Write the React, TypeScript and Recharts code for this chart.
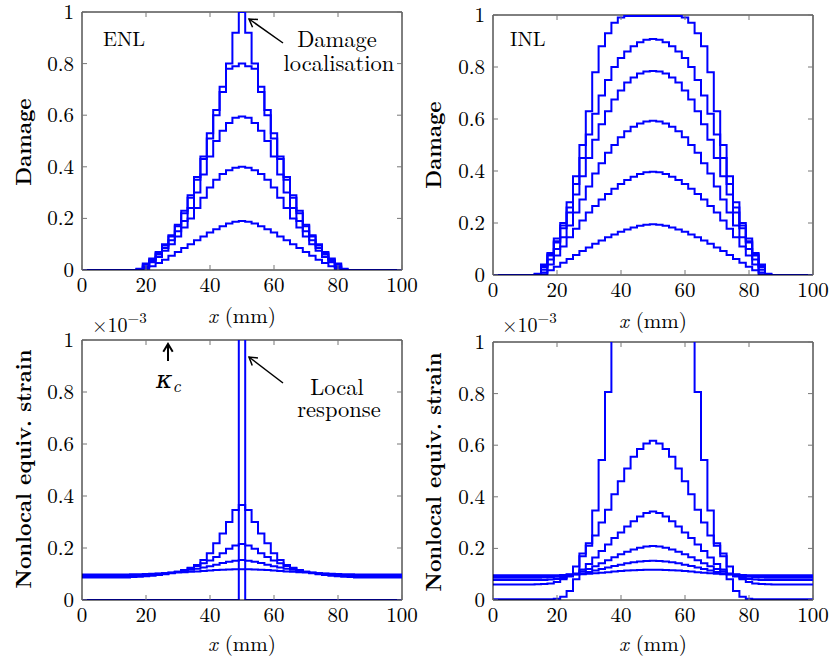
import { LineChart, Line, XAxis, YAxis, ReferenceLine } from 'recharts';

const FONT = "'Latin Modern Roman'";
const BLUE = '#0000ff';

// element centres along the bar (mm)
const xMm = [
  0, 2, 4, 6, 8, 10, 12, 14, 16, 18, 20, 22, 24, 26, 28, 30, 32, 34, 36, 38, 40, 42, 44, 46, 48, 50,
  52, 54, 56, 58, 60, 62, 64, 66, 68, 70, 72, 74, 76, 78, 80, 82, 84, 86, 88, 90, 92, 94, 96, 98, 100,
];
const xTicks = [0, 20, 40, 60, 80, 100];
const yTicks = [0, 0.2, 0.4, 0.6, 0.8, 1];

// ENL damage profiles
const enlDamage1 = [0, 0, 0, 0, 0, 0, 0, 0, 0, 0, 0.005, 0.015, 0.027, 0.04, 0.055, 0.07, 0.085, 0.1, 0.115, 0.13, 0.145, 0.158, 0.17, 0.18, 0.187, 0.19, 0.187, 0.18, 0.17, 0.158, 0.145, 0.13, 0.115, 0.1, 0.085, 0.07, 0.055, 0.04, 0.027, 0.015, 0.005, 0, 0, 0, 0, 0, 0, 0, 0, 0, 0];
const enlDamage2 = [0, 0, 0, 0, 0, 0, 0, 0, 0, 0, 0.012, 0.03, 0.05, 0.075, 0.1, 0.13, 0.165, 0.2, 0.24, 0.28, 0.32, 0.35, 0.372, 0.387, 0.396, 0.4, 0.396, 0.387, 0.372, 0.35, 0.32, 0.28, 0.24, 0.2, 0.165, 0.13, 0.1, 0.075, 0.05, 0.03, 0.012, 0, 0, 0, 0, 0, 0, 0, 0, 0, 0];
const enlDamage3 = [0, 0, 0, 0, 0, 0, 0, 0, 0, 0, 0.015, 0.035, 0.06, 0.085, 0.115, 0.15, 0.19, 0.24, 0.3, 0.37, 0.44, 0.5, 0.54, 0.57, 0.59, 0.595, 0.59, 0.57, 0.54, 0.5, 0.44, 0.37, 0.3, 0.24, 0.19, 0.15, 0.115, 0.085, 0.06, 0.035, 0.015, 0, 0, 0, 0, 0, 0, 0, 0, 0, 0];
const enlDamage4 = [0, 0, 0, 0, 0, 0, 0, 0, 0, 0.003, 0.02, 0.04, 0.065, 0.095, 0.13, 0.17, 0.22, 0.28, 0.35, 0.43, 0.51, 0.6, 0.69, 0.78, 0.79, 0.8, 0.79, 0.78, 0.69, 0.6, 0.51, 0.43, 0.35, 0.28, 0.22, 0.17, 0.13, 0.095, 0.065, 0.04, 0.02, 0.003, 0, 0, 0, 0, 0, 0, 0, 0, 0];
const enlDamage5 = [0, 0, 0, 0, 0, 0, 0, 0, 0, 0.005, 0.025, 0.045, 0.07, 0.1, 0.135, 0.175, 0.23, 0.29, 0.36, 0.44, 0.53, 0.62, 0.71, 0.8, 0.92, 1, 0.92, 0.8, 0.71, 0.62, 0.53, 0.44, 0.36, 0.29, 0.23, 0.175, 0.135, 0.1, 0.07, 0.045, 0.025, 0.005, 0, 0, 0, 0, 0, 0, 0, 0, 0];

// INL damage profiles
const inlDamage1 = [0, 0, 0, 0, 0, 0, 0, 0, 0.003, 0.018, 0.032, 0.047, 0.062, 0.077, 0.092, 0.106, 0.12, 0.133, 0.145, 0.156, 0.166, 0.175, 0.183, 0.189, 0.193, 0.195, 0.193, 0.189, 0.183, 0.175, 0.166, 0.156, 0.145, 0.133, 0.12, 0.106, 0.092, 0.077, 0.062, 0.047, 0.032, 0.018, 0.003, 0, 0, 0, 0, 0, 0, 0, 0];
const inlDamage2 = [0, 0, 0, 0, 0, 0, 0, 0, 0.01, 0.04, 0.075, 0.11, 0.145, 0.178, 0.21, 0.24, 0.265, 0.29, 0.312, 0.332, 0.35, 0.365, 0.378, 0.388, 0.395, 0.397, 0.395, 0.388, 0.378, 0.365, 0.35, 0.332, 0.312, 0.29, 0.265, 0.24, 0.21, 0.178, 0.145, 0.11, 0.075, 0.04, 0.01, 0, 0, 0, 0, 0, 0, 0, 0];
const inlDamage3 = [0, 0, 0, 0, 0, 0, 0, 0, 0.02, 0.06, 0.1, 0.145, 0.19, 0.24, 0.29, 0.34, 0.39, 0.43, 0.47, 0.5, 0.53, 0.553, 0.57, 0.583, 0.59, 0.593, 0.59, 0.583, 0.57, 0.553, 0.53, 0.5, 0.47, 0.43, 0.39, 0.34, 0.29, 0.24, 0.19, 0.145, 0.1, 0.06, 0.02, 0, 0, 0, 0, 0, 0, 0, 0];
const inlDamage4 = [0, 0, 0, 0, 0, 0, 0, 0, 0.03, 0.075, 0.125, 0.18, 0.24, 0.31, 0.38, 0.45, 0.52, 0.58, 0.63, 0.675, 0.71, 0.74, 0.76, 0.775, 0.783, 0.785, 0.783, 0.775, 0.76, 0.74, 0.71, 0.675, 0.63, 0.58, 0.52, 0.45, 0.38, 0.31, 0.24, 0.18, 0.125, 0.075, 0.03, 0, 0, 0, 0, 0, 0, 0, 0];
const inlDamage5 = [0, 0, 0, 0, 0, 0, 0, 0.003, 0.035, 0.08, 0.13, 0.19, 0.26, 0.35, 0.45, 0.54, 0.62, 0.69, 0.75, 0.8, 0.835, 0.86, 0.88, 0.895, 0.905, 0.908, 0.905, 0.895, 0.88, 0.86, 0.835, 0.8, 0.75, 0.69, 0.62, 0.54, 0.45, 0.35, 0.26, 0.19, 0.13, 0.08, 0.035, 0.003, 0, 0, 0, 0, 0, 0, 0];
const inlDamage6 = [0, 0, 0, 0, 0, 0, 0, 0.005, 0.04, 0.085, 0.14, 0.2, 0.28, 0.38, 0.5, 0.63, 0.78, 0.88, 0.93, 0.97, 0.99, 0.996, 0.996, 0.996, 0.996, 0.996, 0.996, 0.996, 0.996, 0.996, 0.99, 0.97, 0.93, 0.88, 0.78, 0.63, 0.5, 0.38, 0.28, 0.2, 0.14, 0.085, 0.04, 0.005, 0, 0, 0, 0, 0, 0, 0];

// ENL nonlocal equivalent strain (x 1e-3)
const enlStrain1 = [0.098, 0.098, 0.098, 0.098, 0.098, 0.098, 0.098, 0.098, 0.099, 0.099, 0.1, 0.101, 0.102, 0.103, 0.104, 0.106, 0.107, 0.109, 0.11, 0.112, 0.113, 0.115, 0.116, 0.117, 0.118, 0.118, 0.118, 0.117, 0.116, 0.115, 0.113, 0.112, 0.11, 0.109, 0.107, 0.106, 0.104, 0.103, 0.102, 0.101, 0.1, 0.099, 0.099, 0.098, 0.098, 0.098, 0.098, 0.098, 0.098, 0.098, 0.098];
const enlStrain2 = [0.094, 0.094, 0.094, 0.094, 0.094, 0.094, 0.094, 0.094, 0.095, 0.096, 0.097, 0.099, 0.101, 0.103, 0.106, 0.109, 0.112, 0.116, 0.12, 0.125, 0.13, 0.136, 0.142, 0.147, 0.151, 0.154, 0.151, 0.147, 0.142, 0.136, 0.13, 0.125, 0.12, 0.116, 0.112, 0.109, 0.106, 0.103, 0.101, 0.099, 0.097, 0.096, 0.095, 0.094, 0.094, 0.094, 0.094, 0.094, 0.094, 0.094, 0.094];
const enlStrain3 = [0.091, 0.091, 0.091, 0.091, 0.091, 0.091, 0.091, 0.091, 0.092, 0.093, 0.095, 0.097, 0.099, 0.102, 0.105, 0.109, 0.115, 0.122, 0.131, 0.141, 0.152, 0.165, 0.18, 0.197, 0.21, 0.215, 0.21, 0.197, 0.18, 0.165, 0.152, 0.141, 0.131, 0.122, 0.115, 0.109, 0.105, 0.102, 0.099, 0.097, 0.095, 0.093, 0.092, 0.091, 0.091, 0.091, 0.091, 0.091, 0.091, 0.091, 0.091];
const enlStrain4 = [0.087, 0.087, 0.087, 0.087, 0.087, 0.087, 0.087, 0.087, 0.088, 0.089, 0.091, 0.093, 0.096, 0.099, 0.103, 0.108, 0.115, 0.124, 0.135, 0.154, 0.18, 0.218, 0.256, 0.3, 0.346, 0.365, 0.346, 0.3, 0.256, 0.218, 0.18, 0.154, 0.135, 0.124, 0.115, 0.108, 0.103, 0.099, 0.096, 0.093, 0.091, 0.089, 0.088, 0.087, 0.087, 0.087, 0.087, 0.087, 0.087, 0.087, 0.087];
const enlLocal = [0, 0, 0, 0, 0, 0, 0, 0, 0, 0, 0, 0, 0, 0, 0, 0, 0, 0, 0, 0, 0, 0, 0, 0, 0, 9, 0, 0, 0, 0, 0, 0, 0, 0, 0, 0, 0, 0, 0, 0, 0, 0, 0, 0, 0, 0, 0, 0, 0, 0, 0];

// INL nonlocal equivalent strain (x 1e-3)
const inlStrain1 = [0.096, 0.096, 0.096, 0.096, 0.096, 0.096, 0.096, 0.096, 0.096, 0.096, 0.096, 0.097, 0.098, 0.099, 0.1, 0.102, 0.104, 0.106, 0.108, 0.11, 0.112, 0.114, 0.115, 0.116, 0.117, 0.117, 0.117, 0.116, 0.115, 0.114, 0.112, 0.11, 0.108, 0.106, 0.104, 0.102, 0.1, 0.099, 0.098, 0.097, 0.096, 0.096, 0.096, 0.096, 0.096, 0.096, 0.096, 0.096, 0.096, 0.096, 0.096];
const inlStrain2 = [0.091, 0.091, 0.091, 0.091, 0.091, 0.091, 0.091, 0.091, 0.091, 0.092, 0.093, 0.095, 0.097, 0.1, 0.104, 0.109, 0.114, 0.12, 0.126, 0.132, 0.137, 0.142, 0.146, 0.149, 0.151, 0.152, 0.151, 0.149, 0.146, 0.142, 0.137, 0.132, 0.126, 0.12, 0.114, 0.109, 0.104, 0.1, 0.097, 0.095, 0.093, 0.092, 0.091, 0.091, 0.091, 0.091, 0.091, 0.091, 0.091, 0.091, 0.091];
const inlStrain3 = [0.086, 0.086, 0.086, 0.086, 0.086, 0.086, 0.086, 0.086, 0.087, 0.088, 0.09, 0.093, 0.097, 0.103, 0.111, 0.12, 0.131, 0.142, 0.154, 0.166, 0.177, 0.187, 0.196, 0.203, 0.207, 0.209, 0.207, 0.203, 0.196, 0.187, 0.177, 0.166, 0.154, 0.142, 0.131, 0.12, 0.111, 0.103, 0.097, 0.093, 0.09, 0.088, 0.087, 0.086, 0.086, 0.086, 0.086, 0.086, 0.086, 0.086, 0.086];
const inlStrain4 = [0.078, 0.078, 0.078, 0.078, 0.078, 0.078, 0.078, 0.078, 0.078, 0.079, 0.081, 0.085, 0.091, 0.101, 0.118, 0.14, 0.165, 0.19, 0.215, 0.24, 0.262, 0.285, 0.305, 0.324, 0.337, 0.343, 0.337, 0.324, 0.305, 0.285, 0.262, 0.24, 0.215, 0.19, 0.165, 0.14, 0.118, 0.101, 0.091, 0.085, 0.081, 0.079, 0.078, 0.078, 0.078, 0.078, 0.078, 0.078, 0.078, 0.078, 0.078];
const inlStrain5 = [0.06, 0.06, 0.06, 0.06, 0.06, 0.06, 0.06, 0.061, 0.062, 0.064, 0.07, 0.08, 0.1, 0.13, 0.17, 0.21, 0.25, 0.3, 0.35, 0.41, 0.46, 0.51, 0.555, 0.585, 0.607, 0.617, 0.607, 0.585, 0.555, 0.51, 0.46, 0.41, 0.35, 0.3, 0.25, 0.21, 0.17, 0.13, 0.1, 0.08, 0.07, 0.064, 0.062, 0.061, 0.06, 0.06, 0.06, 0.06, 0.06, 0.06, 0.06];
const inlStrain6 = [0.003, 0.003, 0.003, 0.003, 0.003, 0.003, 0.003, 0.003, 0.003, 0.003, 0.005, 0.013, 0.035, 0.08, 0.18, 0.22, 0.347, 0.543, 0.806, 1.35, 1.8, 2.2, 2.55, 2.8, 2.95, 3, 2.95, 2.8, 2.55, 2.2, 1.8, 1.35, 0.806, 0.543, 0.347, 0.22, 0.18, 0.08, 0.035, 0.013, 0.005, 0.003, 0.003, 0.003, 0.003, 0.003, 0.003, 0.003, 0.003, 0.003, 0.003];

const PAD_L = 80;
const PAD_T = 20;
const PAD_R = 28;
const PAD_B = 40;

interface PanelProps {
  plotLeft: number;
  plotTop: number;
  plotW: number;
  plotH: number;
  series: number[][];
}

function Panel({ plotLeft, plotTop, plotW, plotH, series }: PanelProps) {
  const data = xMm.map((x, i) => {
    const row: Record<string, number> = { x };
    series.forEach((s, k) => {
      row['s' + k] = s[i];
    });
    return row;
  });
  const bottom = PAD_T + plotH;
  const right = PAD_L + plotW;

  // ticks point inwards on all four sides, pgfplots style
  const xTick = ({ x, payload }: any) => (
    <g>
      <line x1={x} x2={x} y1={bottom} y2={bottom - 5} stroke="#777" />
      <line x1={x} x2={x} y1={PAD_T} y2={PAD_T + 5} stroke="#777" />
      <text x={x} y={bottom + 22} textAnchor="middle" style={{ fontFamily: FONT }} fontSize={21} fill="#000">
        {payload.value}
      </text>
    </g>
  );
  const yTick = ({ y, payload }: any) => (
    <g>
      <line x1={PAD_L} x2={PAD_L + 5} y1={y} y2={y} stroke="#777" />
      <line x1={right} x2={right - 5} y1={y} y2={y} stroke="#777" />
      <text x={PAD_L - 8} y={y + 7} textAnchor="end" style={{ fontFamily: FONT }} fontSize={21} fill="#000">
        {payload.value}
      </text>
    </g>
  );

  return (
    <div style={{ position: 'absolute', left: plotLeft - PAD_L, top: plotTop - PAD_T }}>
      <LineChart
        width={PAD_L + plotW + PAD_R}
        height={PAD_T + plotH + PAD_B}
        data={data}
        margin={{ top: PAD_T, right: PAD_R, left: 0, bottom: 0 }}
      >
        <XAxis
          dataKey="x"
          type="number"
          domain={[0, 100]}
          ticks={xTicks}
          interval={0}
          tick={xTick}
          tickLine={false}
          axisLine={{ stroke: '#000' }}
          height={PAD_B}
          allowDataOverflow
        />
        <YAxis
          type="number"
          domain={[0, 1]}
          ticks={yTicks}
          interval={0}
          tick={yTick}
          tickLine={false}
          axisLine={{ stroke: '#000' }}
          width={PAD_L}
          allowDataOverflow
        />
        <ReferenceLine y={1} stroke="#000" />
        <ReferenceLine x={100} stroke="#000" />
        {series.map((_, k) => (
          <Line
            key={k}
            dataKey={'s' + k}
            type="step"
            stroke={BLUE}
            strokeWidth={2}
            dot={false}
            isAnimationActive={false}
          />
        ))}
      </LineChart>
    </div>
  );
}

function Arrow({ x1, y1, x2, y2, sw = 1.5 }: { x1: number; y1: number; y2: number; x2: number; sw?: number }) {
  const a = Math.atan2(y2 - y1, x2 - x1);
  const L = 9;
  const w = 0.55;
  const p1 = `${x2 - L * Math.cos(a - w)},${y2 - L * Math.sin(a - w)}`;
  const p2 = `${x2 - L * Math.cos(a + w)},${y2 - L * Math.sin(a + w)}`;
  return (
    <g stroke="#000" strokeWidth={sw} fill="none">
      <line x1={x1} y1={y1} x2={x2} y2={y2} />
      <path d={`M${p1} L${x2},${y2} L${p2}`} />
    </g>
  );
}

function XLabel({ cx, y }: { cx: number; y: number }) {
  return (
    <text x={cx} y={y} textAnchor="middle" fontSize={21}>
      <tspan fontStyle="italic">x</tspan> (mm)
    </text>
  );
}

function Scale({ x, y }: { x: number; y: number }) {
  return (
    <text x={x} y={y} fontSize={20}>
      ×10
      <tspan dy={-9} fontSize={15}>
        −3
      </tspan>
    </text>
  );
}

function YLabel({ x, cy, text }: { x: number; cy: number; text: string }) {
  return (
    <text x={x} y={cy} transform={`rotate(-90 ${x} ${cy})`} textAnchor="middle" fontWeight="bold" fontSize={21.5}>
      {text}
    </text>
  );
}

export default function App() {
  return (
    <div style={{ position: 'absolute', left: 0, top: 0, width: 831, height: 662, background: '#fff', fontFamily: FONT, overflow: 'hidden' }}>
      <Panel plotLeft={82} plotTop={12} plotW={320} plotH={258} series={[enlDamage1, enlDamage2, enlDamage3, enlDamage4, enlDamage5]} />
      <Panel
        plotLeft={493}
        plotTop={15}
        plotW={320}
        plotH={260}
        series={[inlDamage1, inlDamage2, inlDamage3, inlDamage4, inlDamage5, inlDamage6]}
      />
      <Panel plotLeft={82} plotTop={340} plotW={320} plotH={260} series={[enlLocal, enlStrain1, enlStrain2, enlStrain3, enlStrain4]} />
      <Panel
        plotLeft={493}
        plotTop={342}
        plotW={320}
        plotH={258}
        series={[inlStrain1, inlStrain2, inlStrain3, inlStrain4, inlStrain5, inlStrain6]}
      />
      <svg
        width={831}
        height={662}
        style={{ position: 'absolute', left: 0, top: 0, pointerEvents: 'none', fontFamily: FONT }}
        fill="#000"
      >
        <text x={103} y={46} fontSize={20.5}>ENL</text>
        <text x={510} y={46} fontSize={20.5}>INL</text>

        <text x={337} y={47} textAnchor="middle" fontSize={22.5}>Damage</text>
        <text x={339} y={71} textAnchor="middle" fontSize={22.5}>localisation</text>
        <Arrow x1={283} y1={43} x2={249} y2={19} />

        <text x={337} y={395} textAnchor="middle" fontSize={22.5}>Local</text>
        <text x={339} y={417} textAnchor="middle" fontSize={22.5}>response</text>
        <Arrow x1={283} y1={383} x2={249} y2={357} />

        <Arrow x1={168} y1={361} x2={168} y2={344} sw={2} />
        <text x={156} y={388} fontSize={25} fontFamily="DejaVu Serif" fontStyle="italic" style={{ fontFamily: 'DejaVu Serif' }}>
          κ
          <tspan dy={4} fontSize={18} style={{ fontFamily: FONT }}>c</tspan>
        </text>

        <Scale x={92} y={332} />
        <Scale x={502} y={332} />

        <XLabel cx={242} y={323} />
        <XLabel cx={653} y={328} />
        <XLabel cx={242} y={651} />
        <XLabel cx={653} y={651} />

        <YLabel x={31} cy={142} text="Damage" />
        <YLabel x={441} cy={145} text="Damage" />
        <YLabel x={31} cy={469} text="Nonlocal equiv. strain" />
        <YLabel x={441} cy={472} text="Nonlocal equiv. strain" />
      </svg>
    </div>
  );
}
